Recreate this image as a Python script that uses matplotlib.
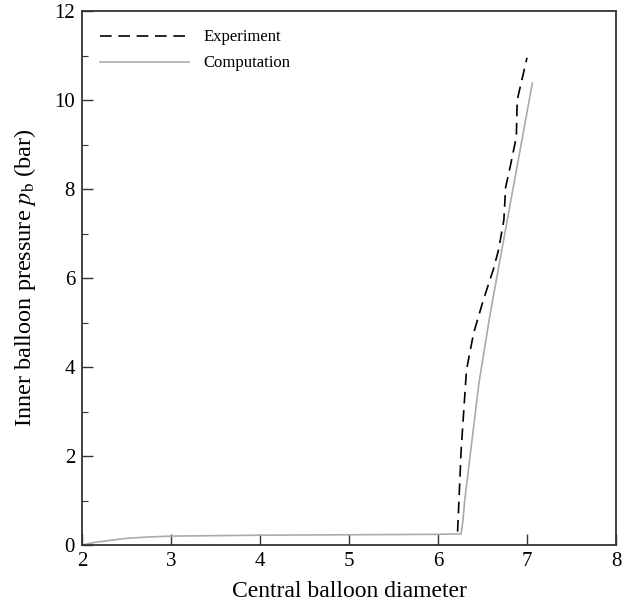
import matplotlib.pyplot as plt
from matplotlib.ticker import MultipleLocator

plt.rcParams['font.family'] = ['Liberation Serif', 'DejaVu Serif']
plt.rcParams['mathtext.fontset'] = 'stix'

# experiment (dashed)
exp_x = [6.22, 6.26, 6.32, 6.40, 6.51, 6.62, 6.68, 6.74, 6.76, 6.81, 6.88, 6.89, 7.00]
exp_y = [0.30, 2.13, 3.93, 4.76, 5.51, 6.18, 6.63, 7.30, 8.04, 8.49, 9.17, 10.0, 10.95]

# computation (grey)
comp_x = [2.0, 2.15, 2.3, 2.5, 2.75, 3.0, 3.5, 4.0, 5.0, 6.0, 6.26, 6.28, 6.30, 6.46, 6.58, 6.62, 7.06]
comp_y = [0.0, 0.06, 0.10, 0.15, 0.18, 0.20, 0.21, 0.22, 0.23, 0.24, 0.25, 0.55, 1.0, 3.64, 5.12, 5.57, 10.38]

fig = plt.figure(figsize=(6.28, 6.08), dpi=100)
ax = fig.add_axes([82/628, 1-545/608, 534/628, 534/608])

ax.plot(exp_x, exp_y, color='black', lw=1.2, dashes=(7, 4), label='Experiment')
ax.plot(comp_x, comp_y, color='#aaaaaa', lw=1.2, label='Computation')

ax.set_xlim(2, 8)
ax.set_ylim(0, 12)
ax.xaxis.set_major_locator(MultipleLocator(1))
ax.yaxis.set_major_locator(MultipleLocator(2))
ax.yaxis.set_minor_locator(MultipleLocator(1))
ax.tick_params(which='major', direction='in', length=8, width=1, labelsize=15, color='#333333', pad=5)
ax.tick_params(which='minor', direction='in', length=4, width=0.8, color='#333333')
for s in ax.spines.values():
    s.set_color('#333333')
    s.set_linewidth(1.3)

ax.set_xlabel('Central balloon diameter', fontsize=17, labelpad=7)
ax.set_ylabel(r'Inner balloon pressure $p_\mathrm{b}$ (bar)', fontsize=17.5, labelpad=12)

ax.legend(loc='upper left', frameon=False, fontsize=12, handlelength=5.3,
          handletextpad=0.9, borderaxespad=0.7, labelspacing=0.6)

fig.savefig('out.png', dpi=100)
